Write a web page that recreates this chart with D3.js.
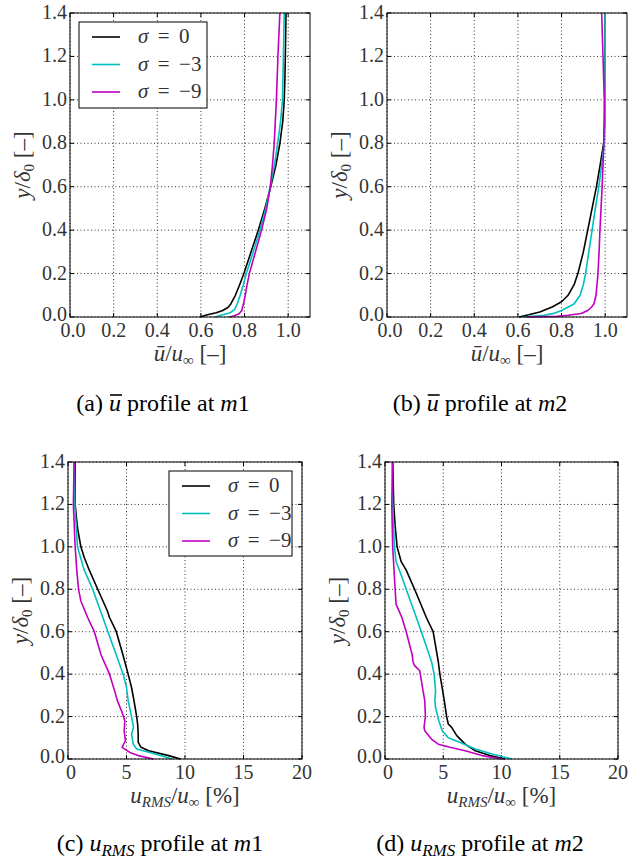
<!DOCTYPE html>
<html lang="en">
<head>
<meta charset="utf-8">
<title>mean and rms profiles</title>
<script src="https://cdn.jsdelivr.net/npm/d3@7"></script>
<style>
  body { margin: 0; background: #fff; }
  svg { display: block; }
  text { font-family: "Liberation Serif", "Times New Roman", "DejaVu Serif", serif; }
  .tick-label { font-size: 20px; fill: #333; }
  .axis-label { font-size: 23px; fill: #333; }
  .legend-label { font-size: 21px; fill: #333; }
  .caption { font-size: 24px; fill: #000; }
  .grid line { stroke: #000; stroke-width: 0.8; stroke-dasharray: 1,2.5; }
</style>
</head>
<body>
<div id="chart"></div>
<script>

// series labels / colours
var seriesLabels = ["\u03c3 = 0", "\u03c3 = \u22123", "\u03c3 = \u22129"];
var seriesColors = ["#000000", "#00bfbf", "#bf00bf"];

// tick values
var yTicks = [0, 0.2, 0.4, 0.6, 0.8, 1.0, 1.2, 1.4];
var meanTicks = [0, 0.2, 0.4, 0.6, 0.8, 1.0];
var rmsTicks = [0, 5, 10, 15, 20];

// [value, y/delta0]
var m1MeanS0 = [[0.595,0],[0.63,0.01],[0.67,0.02],[0.70,0.03],[0.725,0.045],[0.737,0.06],[0.758,0.1],[0.778,0.15],[0.797,0.2],[0.83,0.3],[0.863,0.4],[0.893,0.5],[0.92,0.6],[0.944,0.7],[0.962,0.8],[0.975,0.9],[0.982,1.0],[0.985,1.1],[0.987,1.2],[0.99,1.4]];
var m1MeanS3 = [[0.665,0],[0.70,0.01],[0.735,0.02],[0.755,0.035],[0.766,0.06],[0.78,0.1],[0.795,0.15],[0.808,0.2],[0.84,0.3],[0.871,0.4],[0.897,0.5],[0.918,0.6],[0.937,0.7],[0.952,0.8],[0.965,0.9],[0.974,1.0],[0.978,1.2],[0.982,1.4]];
var m1MeanS9 = [[0.73,0],[0.75,0.005],[0.775,0.015],[0.787,0.03],[0.795,0.06],[0.803,0.1],[0.812,0.15],[0.822,0.2],[0.85,0.3],[0.878,0.4],[0.902,0.5],[0.918,0.6],[0.928,0.7],[0.936,0.8],[0.941,0.9],[0.946,1.0],[0.953,1.2],[0.962,1.4]];

var m2MeanS0 = [[0.605,0],[0.65,0.01],[0.70,0.023],[0.757,0.046],[0.80,0.07],[0.83,0.1],[0.858,0.15],[0.875,0.2],[0.90,0.3],[0.92,0.4],[0.94,0.5],[0.96,0.6],[0.977,0.7],[0.993,0.8],[0.998,0.9],[0.999,1.0],[1.0,1.2],[1.0,1.4]];
var m2MeanS3 = [[0.627,0],[0.72,0.008],[0.77,0.018],[0.80,0.03],[0.857,0.06],[0.885,0.1],[0.90,0.15],[0.91,0.2],[0.925,0.3],[0.94,0.4],[0.955,0.5],[0.971,0.6],[0.984,0.7],[0.996,0.8],[0.999,0.9],[1.0,1.0],[1.0,1.4]];
var m2MeanS9 = [[0.64,0],[0.78,0.003],[0.83,0.008],[0.89,0.016],[0.92,0.03],[0.937,0.045],[0.948,0.06],[0.958,0.1],[0.967,0.2],[0.972,0.3],[0.976,0.4],[0.981,0.5],[0.986,0.6],[0.994,0.8],[0.996,1.0],[0.99,1.2],[0.984,1.4]];

var m1RmsS0 = [[9.62,0],[8.6,0.016],[6.9,0.039],[6.24,0.055],[6.0,0.078],[6.0,0.118],[5.95,0.165],[5.87,0.2],[5.64,0.275],[5.43,0.337],[5.14,0.4],[4.7,0.49],[4.13,0.6],[3.55,0.667],[3.35,0.7],[2.54,0.8],[1.82,0.89],[1.39,0.95],[1.1,1.0],[0.81,1.09],[0.61,1.2],[0.6,1.4]];
var m1RmsS3 = [[8.9,0],[7.46,0.024],[5.87,0.047],[5.58,0.07],[5.43,0.118],[5.6,0.149],[5.43,0.2],[5.14,0.275],[5.0,0.337],[4.71,0.4],[4.13,0.49],[3.41,0.6],[2.98,0.667],[2.11,0.8],[1.39,0.89],[0.81,1.0],[0.58,1.2],[0.52,1.4]];
var m1RmsS9 = [[7.31,0],[6.0,0.016],[5.29,0.031],[4.62,0.055],[4.91,0.086],[4.8,0.133],[4.86,0.18],[4.57,0.227],[4.22,0.275],[3.99,0.32],[3.55,0.4],[2.83,0.49],[2.25,0.6],[1.68,0.667],[1.1,0.745],[0.9,0.8],[0.75,0.89],[0.61,1.0],[0.46,1.2],[0.52,1.4]];

var m2RmsS0 = [[10.3,0],[9.0,0.016],[7.75,0.039],[6.88,0.07],[6.16,0.11],[5.72,0.149],[5.43,0.165],[5.29,0.2],[5.09,0.275],[4.71,0.4],[4.57,0.46],[4.13,0.6],[3.55,0.667],[2.54,0.8],[1.82,0.89],[1.39,0.93],[1.04,1.0],[0.87,1.1],[0.75,1.2],[0.66,1.4]];
var m2RmsS3 = [[10.9,0],[9.19,0.024],[7.75,0.047],[6.45,0.078],[5.43,0.1],[4.91,0.133],[4.62,0.18],[4.34,0.243],[4.28,0.275],[4.34,0.32],[4.22,0.4],[3.99,0.46],[3.12,0.6],[2.69,0.667],[1.82,0.8],[1.24,0.89],[0.95,0.93],[0.81,1.0],[0.66,1.2],[0.61,1.4]];
var m2RmsS9 = [[10.06,0],[8.32,0.016],[6.88,0.039],[5.58,0.055],[4.57,0.07],[3.99,0.094],[3.41,0.133],[3.35,0.149],[3.47,0.2],[3.41,0.275],[3.27,0.32],[3.12,0.37],[2.98,0.416],[2.54,0.44],[2.4,0.46],[2.34,0.49],[1.82,0.6],[1.45,0.667],[0.95,0.73],[0.87,0.8],[0.66,1.0],[0.58,1.2],[0.66,1.4]];

var W = 644, H = 861;

var svg = d3.select("#chart").append("svg")
    .attr("width", W)
    .attr("height", H)
    .style("background", "#fff");

var panels = [
  { series: [m1MeanS0, m1MeanS3, m1MeanS9], kind: "mean", xDomain: [0, 1.1], xTicks: meanTicks,
    left: 70, right: 310, top: 13, bottom: 317, legend: { x: 79, y: 22, w: 128, h: 86 },
    caption: { cx: 163, y: 411, pre: "(a) ", bar: true, m: "m1" } },
  { series: [m2MeanS0, m2MeanS3, m2MeanS9], kind: "mean", xDomain: [0, 1.1], xTicks: meanTicks,
    left: 387, right: 627, top: 13, bottom: 317, legend: null,
    caption: { cx: 480, y: 411, pre: "(b) ", bar: true, m: "m2" } },
  { series: [m1RmsS0, m1RmsS3, m1RmsS9], kind: "rms", xDomain: [0, 20], xTicks: rmsTicks,
    left: 68, right: 302, top: 462, bottom: 759, legend: { x: 169, y: 471, w: 123, h: 85 },
    caption: { cx: 160, y: 851, pre: "(c) ", bar: false, m: "m1" } },
  { series: [m2RmsS0, m2RmsS3, m2RmsS9], kind: "rms", xDomain: [0, 20], xTicks: rmsTicks,
    left: 385, right: 618, top: 462, bottom: 759, legend: null,
    caption: { cx: 480, y: 851, pre: "(d) ", bar: false, m: "m2" } }
];

panels.forEach(function(p) {
  var x = d3.scaleLinear().domain(p.xDomain).range([p.left, p.right]);
  var y = d3.scaleLinear().domain([0, 1.4]).range([p.bottom, p.top]);
  var g = svg.append("g");

  // dotted grid
  var grid = g.append("g").attr("class", "grid");
  grid.selectAll(".gx").data(p.xTicks).enter().append("line")
      .attr("x1", function(d) { return x(d); }).attr("x2", function(d) { return x(d); })
      .attr("y1", p.top).attr("y2", p.bottom);
  grid.selectAll(".gy").data(yTicks).enter().append("line")
      .attr("x1", p.left).attr("x2", p.right)
      .attr("y1", function(d) { return y(d); }).attr("y2", function(d) { return y(d); });

  // inward ticks on all four sides
  var ticks = g.append("g").attr("stroke", "#000").attr("stroke-width", 1);
  p.xTicks.forEach(function(d) {
    ticks.append("line").attr("x1", x(d)).attr("x2", x(d)).attr("y1", p.bottom).attr("y2", p.bottom - 4);
    ticks.append("line").attr("x1", x(d)).attr("x2", x(d)).attr("y1", p.top).attr("y2", p.top + 4);
  });
  yTicks.forEach(function(d) {
    ticks.append("line").attr("x1", p.left).attr("x2", p.left + 4).attr("y1", y(d)).attr("y2", y(d));
    ticks.append("line").attr("x1", p.right).attr("x2", p.right - 4).attr("y1", y(d)).attr("y2", y(d));
  });

  // curves
  var line = d3.line()
      .x(function(d) { return x(d[0]); })
      .y(function(d) { return y(d[1]); });
  p.series.forEach(function(s, i) {
    g.append("path")
        .datum(s)
        .attr("d", line)
        .attr("fill", "none")
        .attr("stroke", seriesColors[i])
        .attr("stroke-width", 1.6)
        .attr("stroke-linejoin", "round");
  });

  // frame
  g.append("rect")
      .attr("x", p.left).attr("y", p.top)
      .attr("width", p.right - p.left).attr("height", p.bottom - p.top)
      .attr("fill", "none").attr("stroke", "#000").attr("stroke-width", 1);

  // tick labels
  var xfmt = p.kind === "mean" ? d3.format(".1f") : d3.format("d");
  g.selectAll(".xl").data(p.xTicks).enter().append("text")
      .attr("class", "tick-label")
      .attr("x", function(d, i) { return x(d) + (i === 0 ? 3 : 0); })
      .attr("y", p.bottom + 20)
      .attr("text-anchor", "middle")
      .text(xfmt);
  g.selectAll(".yl").data(yTicks).enter().append("text")
      .attr("class", "tick-label")
      .attr("x", p.left - 3)
      .attr("y", function(d, i) { return y(d) + (i === 0 ? 4 : 6); })
      .attr("text-anchor", "end")
      .text(d3.format(".1f"));

  // x axis label
  var cx = (p.left + p.right) / 2;
  var xl = g.append("text").attr("class", "axis-label")
      .attr("x", cx).attr("y", p.bottom + 44).attr("text-anchor", "middle");
  if (p.kind === "mean") {
    xl.append("tspan").attr("font-style", "italic").text("\u016b");
    xl.append("tspan").text("/");
    xl.append("tspan").attr("font-style", "italic").text("u");
    xl.append("tspan").attr("font-size", "15px").attr("dy", 4).text("\u221e");
    xl.append("tspan").attr("dy", -4).text(" [\u2013]");
  } else {
    xl.append("tspan").attr("font-style", "italic").text("u");
    xl.append("tspan").attr("font-style", "italic").attr("font-size", "15px").attr("dy", 4).text("RMS");
    xl.append("tspan").attr("dy", -4).text("/");
    xl.append("tspan").attr("font-style", "italic").text("u");
    xl.append("tspan").attr("font-size", "15px").attr("dy", 4).text("\u221e");
    xl.append("tspan").attr("dy", -4).text(" [%]");
  }

  // y axis label
  var cy = (p.top + p.bottom) / 2;
  var yl = g.append("text").attr("class", "axis-label")
      .attr("transform", "translate(" + (p.left - 40) + "," + cy + ") rotate(-90)")
      .attr("text-anchor", "middle");
  yl.append("tspan").attr("font-style", "italic").text("y");
  yl.append("tspan").text("/");
  yl.append("tspan").attr("font-style", "italic").text("\u03b4");
  yl.append("tspan").attr("font-size", "15px").attr("dy", 4).text("0");
  yl.append("tspan").attr("dy", -4).text(" [\u2013]");

  // legend
  if (p.legend) {
    var L = p.legend;
    var lg = g.append("g");
    lg.append("rect")
        .attr("x", L.x).attr("y", L.y).attr("width", L.w).attr("height", L.h)
        .attr("fill", "#fff").attr("stroke", "#000").attr("stroke-width", 1);
    seriesLabels.forEach(function(lab, i) {
      var ry = L.y + 15 + i * 27.5;
      lg.append("line")
          .attr("x1", L.x + 13).attr("x2", L.x + 41)
          .attr("y1", ry).attr("y2", ry)
          .attr("stroke", seriesColors[i]).attr("stroke-width", 1.6);
      var t = lg.append("text").attr("class", "legend-label")
          .attr("x", L.x + 59).attr("y", ry + 6)
          .attr("xml:space", "preserve");
      t.append("tspan").attr("font-style", "italic").text("\u03c3");
      t.append("tspan").text(lab.slice(1).replace(" = ", "\u2009 = \u2009"));
    });
  }

  // caption
  var c = p.caption;
  var ct = svg.append("text").attr("class", "caption")
      .attr("x", c.cx).attr("y", c.y).attr("text-anchor", "middle");
  ct.append("tspan").text(c.pre);
  ct.append("tspan").attr("font-style", "italic").text("u");
  if (!c.bar) {
    ct.append("tspan").attr("font-style", "italic").attr("font-size", "17px").attr("dy", 5).text("RMS");
    ct.append("tspan").attr("dy", -5).text(" profile at ");
  } else {
    ct.append("tspan").text(" profile at ");
  }
  ct.append("tspan").attr("font-style", "italic").text(c.m.charAt(0));
  ct.append("tspan").text(c.m.charAt(1));
  if (c.bar) {
    var node = ct.node();
    var idx = c.pre.length;
    var s0 = node.getStartPositionOfChar(idx);
    var e0 = node.getEndPositionOfChar(idx);
    svg.append("line")
        .attr("x1", s0.x + 1).attr("x2", e0.x + 1)
        .attr("y1", c.y - 16).attr("y2", c.y - 16)
        .attr("stroke", "#000").attr("stroke-width", 1.6);
  }
});

</script>
</body>
</html>
